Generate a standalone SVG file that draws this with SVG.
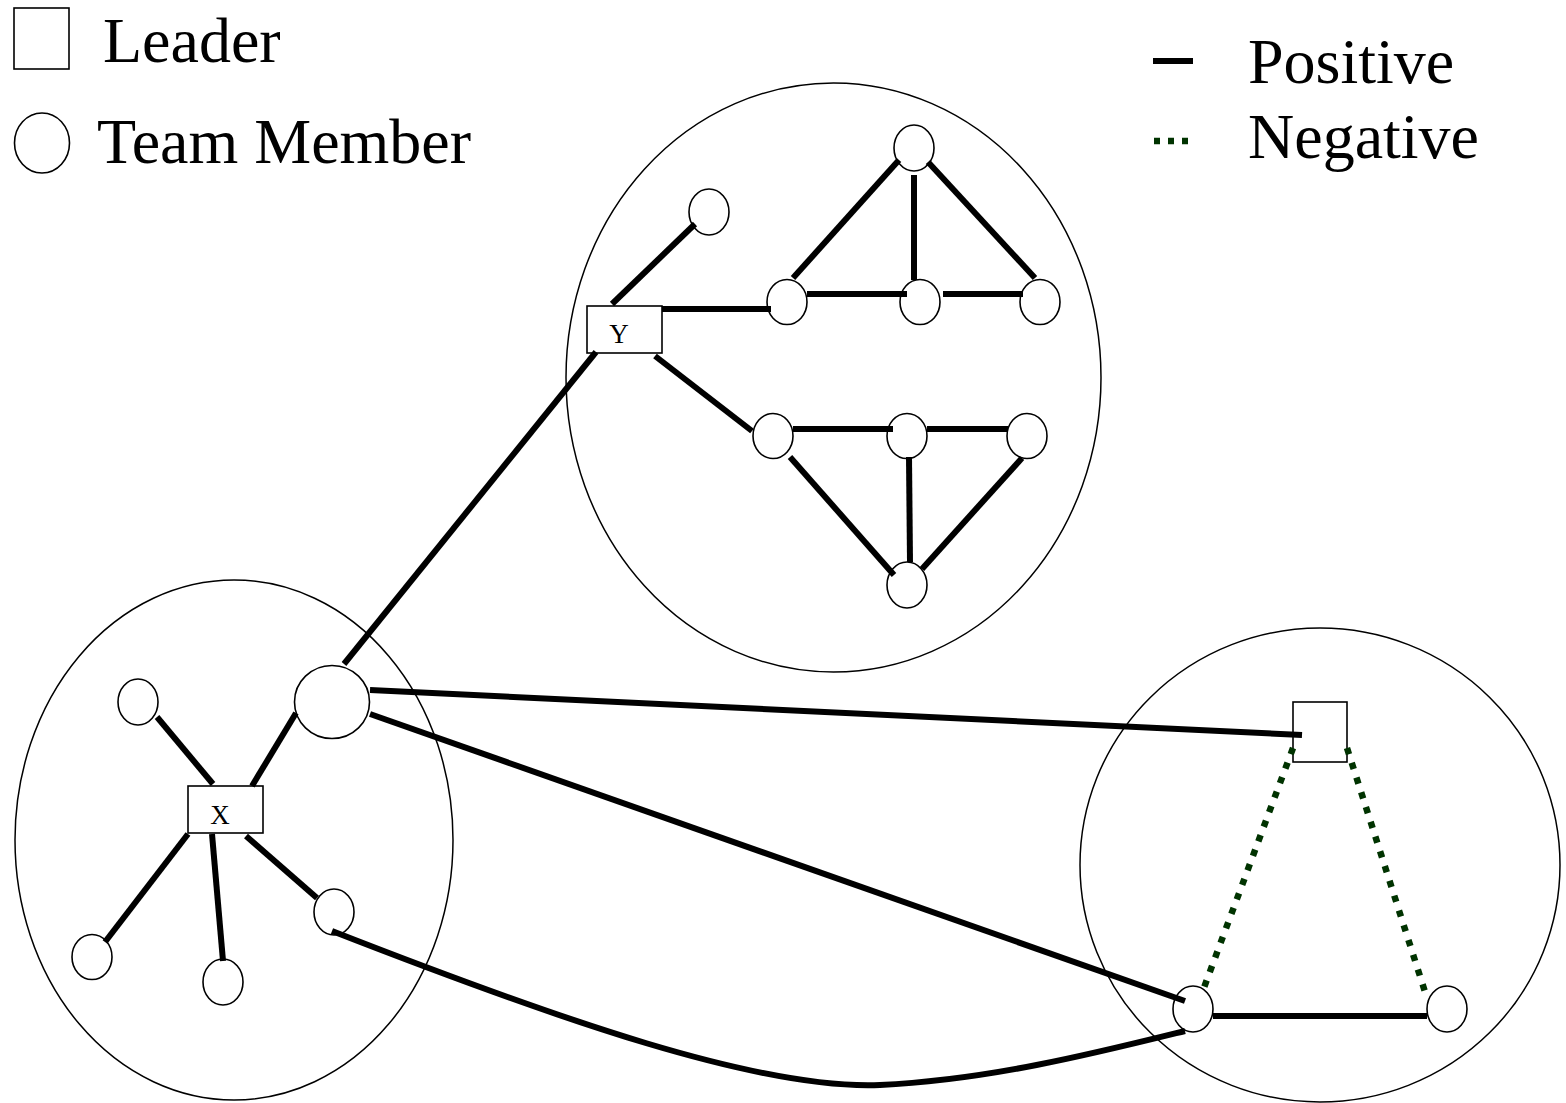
<svg xmlns="http://www.w3.org/2000/svg" width="1566" height="1103" viewBox="0 0 1566 1103">
<style>
.cl{fill:none;stroke:#000;stroke-width:1.5}
.nd{fill:#fff;stroke:#000;stroke-width:1.6}
.pos{stroke:#000;stroke-width:6;fill:none;stroke-linecap:butt}
.neg{stroke:#003300;stroke-width:6.5;fill:none;stroke-dasharray:6.5 9}
.lg{font-family:"Liberation Serif","Times New Roman",serif;font-size:64px;fill:#000}
.lb{font-family:"Liberation Serif","Times New Roman",serif;font-size:27px;fill:#000;text-anchor:middle}
</style>
<rect width="1566" height="1103" fill="#fff"/>
<g id="legend">
<rect x="14" y="8" width="55" height="61" class="nd"/>
<text x="103" y="62" class="lg">Leader</text>
<ellipse cx="42" cy="143" rx="27.5" ry="30" class="nd"/>
<text x="97" y="163" class="lg">Team Member</text>
<line x1="1153" y1="61" x2="1193" y2="61" class="pos"/>
<text x="1248" y="83" class="lg">Positive</text>
<line x1="1154" y1="141" x2="1193" y2="141" class="neg" style="stroke-dasharray:6 8"/>
<text x="1248" y="158" class="lg">Negative</text>
</g>
<g id="clusters">
<ellipse id="cluster-top" cx="833.5" cy="377.5" rx="267.5" ry="294.5" class="cl"/>
<ellipse id="cluster-left" cx="234" cy="840" rx="219" ry="260" class="cl"/>
<ellipse id="cluster-right" cx="1320" cy="865" rx="240" ry="237" class="cl"/>
</g>
<g id="nodes">
<g id="leader-Y"><rect x="587" y="306" width="75" height="47" class="nd"/><text x="619" y="343" class="lb">Y</text></g>
<g id="t-a"><ellipse cx="709" cy="212" rx="20" ry="23" class="nd"/></g>
<g id="t-top"><ellipse cx="914" cy="148" rx="20" ry="23" class="nd"/></g>
<g id="t-l1"><ellipse cx="787" cy="302" rx="20" ry="22.5" class="nd"/></g>
<g id="t-m1"><ellipse cx="920" cy="302" rx="20" ry="22.5" class="nd"/></g>
<g id="t-r1"><ellipse cx="1040" cy="302" rx="20" ry="22.5" class="nd"/></g>
<g id="t-l2"><ellipse cx="773" cy="436" rx="20" ry="22.5" class="nd"/></g>
<g id="t-m2"><ellipse cx="907" cy="436" rx="20" ry="22.5" class="nd"/></g>
<g id="t-r2"><ellipse cx="1027" cy="436" rx="20" ry="22.5" class="nd"/></g>
<g id="t-b"><ellipse cx="907" cy="585" rx="20" ry="23" class="nd"/></g>
<g id="leader-X"><rect x="188" y="786" width="75" height="47" class="nd"/><text x="220" y="824" class="lb">X</text></g>
<g id="l-n1"><ellipse cx="138" cy="702" rx="20" ry="23" class="nd"/></g>
<g id="l-hub"><ellipse cx="332" cy="702" rx="37.5" ry="36.5" class="nd"/></g>
<g id="l-n2"><ellipse cx="92" cy="957" rx="20" ry="22.5" class="nd"/></g>
<g id="l-n3"><ellipse cx="223" cy="982" rx="20" ry="23" class="nd"/></g>
<g id="l-n4"><ellipse cx="334" cy="912" rx="20" ry="23" class="nd"/></g>
<g id="leader-R"><rect x="1293" y="702" width="54" height="60" class="nd"/></g>
<g id="r-bl"><ellipse cx="1193" cy="1009" rx="20" ry="23" class="nd"/></g>
<g id="r-br"><ellipse cx="1447" cy="1009" rx="20" ry="23" class="nd"/></g>
</g>
<g id="connectors">
<line x1="612" y1="304" x2="695" y2="224" class="pos"/>
<line x1="662" y1="309" x2="771" y2="309" class="pos"/>
<line x1="655" y1="356" x2="752" y2="431" class="pos"/>
<line x1="793" y1="278" x2="899" y2="160" class="pos"/>
<line x1="914" y1="175" x2="914" y2="280" class="pos"/>
<line x1="928" y1="162" x2="1035" y2="278" class="pos"/>
<line x1="807" y1="294" x2="907" y2="294" class="pos"/>
<line x1="943" y1="294" x2="1023" y2="294" class="pos"/>
<line x1="793" y1="429" x2="893" y2="429" class="pos"/>
<line x1="927" y1="429" x2="1008" y2="429" class="pos"/>
<line x1="790" y1="457" x2="894" y2="575" class="pos"/>
<line x1="909" y1="457" x2="910" y2="562" class="pos"/>
<line x1="1022" y1="458" x2="922" y2="569" class="pos"/>
<line x1="213" y1="784" x2="157" y2="717" class="pos"/>
<line x1="252" y1="786" x2="296" y2="713" class="pos"/>
<line x1="188" y1="834" x2="105" y2="942" class="pos"/>
<line x1="212" y1="834" x2="223" y2="961" class="pos"/>
<line x1="246" y1="836" x2="317" y2="898" class="pos"/>
<line x1="344" y1="664" x2="596" y2="352" class="pos"/>
<line x1="370" y1="690" x2="1302" y2="735" class="pos"/>
<line x1="370" y1="714" x2="1185" y2="1001" class="pos"/>
<path d="M332,931 C560,1020 760,1090 880,1085 C990,1080 1100,1052 1185,1031" class="pos"/>
<line x1="1213" y1="1016" x2="1427" y2="1016" class="pos"/>
<line x1="1293" y1="748" x2="1202" y2="993" class="neg"/>
<line x1="1347" y1="748" x2="1427" y2="998" class="neg"/>
</g>
</svg>
